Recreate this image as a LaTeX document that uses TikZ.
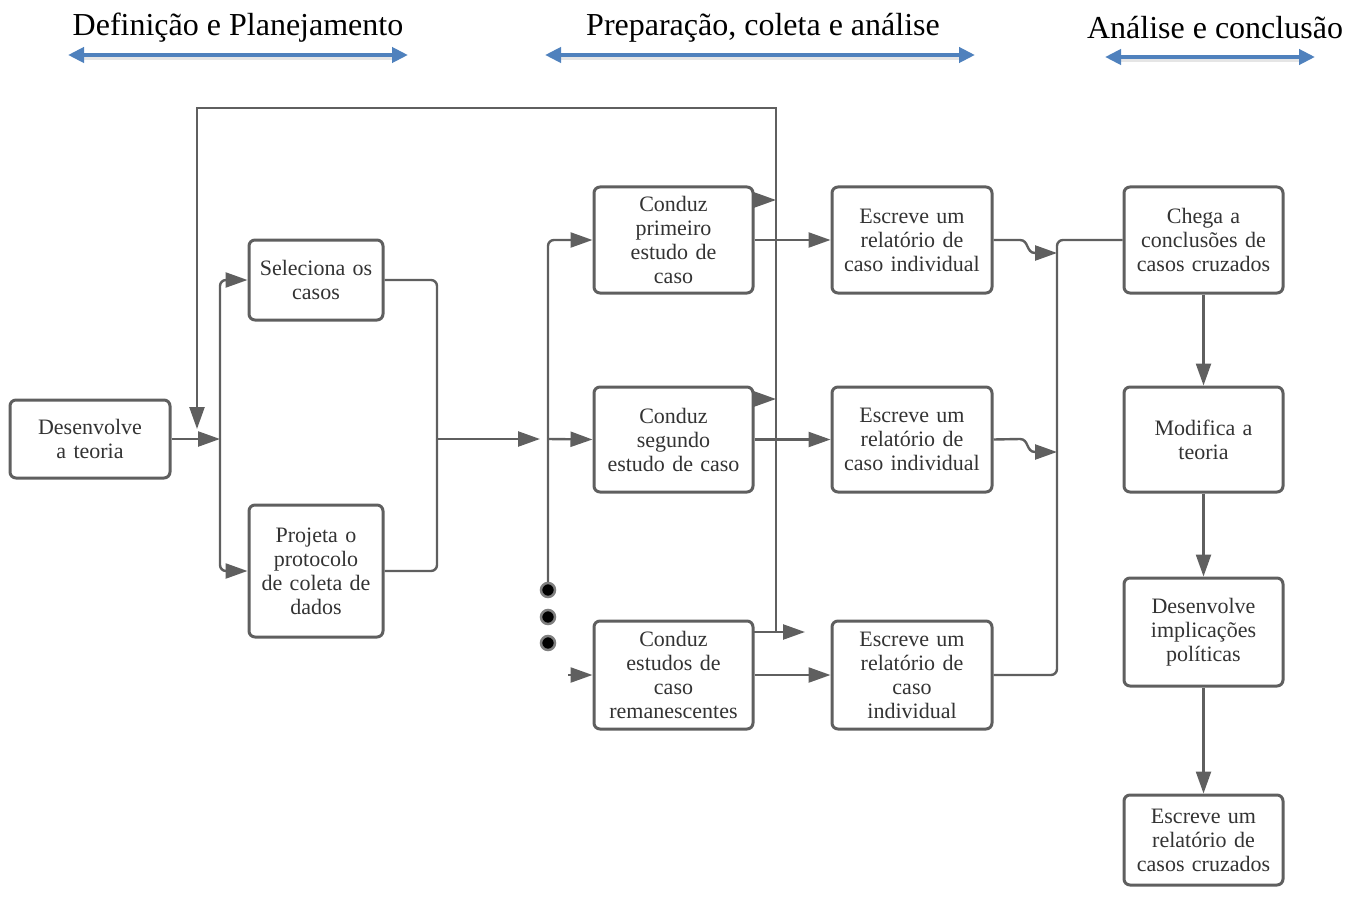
\documentclass[tikz,border=0pt]{standalone}
\usepackage{fontspec}
\setmainfont{Liberation Serif}
\usetikzlibrary{arrows.meta}
\definecolor{lgray}{HTML}{5F5F5F}
\definecolor{tgray}{HTML}{333333}
\definecolor{hblue}{HTML}{4F81BD}
\tikzset{
  >={Triangle[length=22pt,width=15pt]},
  box/.style={draw=lgray, line width=3pt, rounded corners=6pt, fill=white, inner sep=0pt,
    align=center, text=tgray, font=\fontsize{22}{24}\selectfont},
  conn/.style={draw=lgray, line width=2.4pt},
  harrow/.style={draw=hblue, line width=4pt, {Triangle[length=16pt,width=15pt]}-{Triangle[length=16pt,width=15pt]}},
  hshadow/.style={draw=black!10, line width=3pt},
  head/.style={font=\fontsize{32}{36}\selectfont, text=black},
  dot/.style={circle, fill=black, draw=lgray!80, line width=2.5pt, minimum size=14pt, inner sep=0pt}
}
\begin{document}
\begin{tikzpicture}[x=1pt,y=-1pt]
\useasboundingbox (0,0) rectangle (1348,896);
% headers
\node[head] (h1) at (238,28) {Definição e Planejamento};
\node[head] (h2) at (763,28) {Preparação, coleta e análise};
\node[head] (h3) at (1215,28) {Análise e conclusão};
\coordinate (a1l) at (68,55); \coordinate (a1r) at (408,55);
\coordinate (a2l) at (545,55); \coordinate (a2r) at (975,55);
\coordinate (a3l) at (1105,57); \coordinate (a3r) at (1315,57);
\foreach \l/\r in {a1l/a1r,a2l/a2r,a3l/a3r}{
  \draw[hshadow] ([shift={(14,4)}]\l) -- ([shift={(-14,4)}]\r);
  \draw[harrow] (\l) -- (\r);
}
% boxes
\node[box, minimum width=160pt, minimum height=78pt, text width=150pt] (d) at (90,439) {Desenvolve\\a teoria};
\node[box, minimum width=134pt, minimum height=80pt, text width=128pt] (sel) at (316,280) {Seleciona os\\casos};
\node[box, minimum width=134pt, minimum height=132pt, text width=128pt] (proj) at (316,571) {Projeta o\\protocolo\\de coleta de\\dados};
\node[box, minimum width=159pt, minimum height=106pt, text width=155pt] (c1) at (673.5,240) {Conduz\\primeiro\\estudo de\\caso};
\node[box, minimum width=159pt, minimum height=105pt, text width=155pt] (c2) at (673.5,439.5) {Conduz\\segundo\\estudo de caso};
\node[box, minimum width=159pt, minimum height=108pt, text width=155pt] (c3) at (673.5,675) {Conduz\\estudos de\\caso\\remanescentes};
\node[box, minimum width=160pt, minimum height=106pt, text width=155pt] (e1) at (912,240) {Escreve um\\relatório de\\caso individual};
\node[box, minimum width=160pt, minimum height=105pt, text width=155pt] (e2) at (912,439.5) {Escreve um\\relatório de\\caso individual};
\node[box, minimum width=160pt, minimum height=108pt, text width=155pt] (e3) at (912,675) {Escreve um\\relatório de\\caso\\individual};
\node[box, minimum width=159pt, minimum height=106pt, text width=155pt] (ch) at (1203.5,240) {Chega a\\conclusões de\\casos cruzados};
\node[box, minimum width=159pt, minimum height=105pt, text width=155pt] (mod) at (1203.5,439.5) {Modifica a\\teoria};
\node[box, minimum width=159pt, minimum height=108pt, text width=155pt] (imp) at (1203.5,632) {Desenvolve\\implicações\\políticas};
\node[box, minimum width=159pt, minimum height=90pt, text width=155pt] (ecc) at (1203.5,840) {Escreve um\\relatório de\\casos cruzados};
% coordinates
\coordinate (b1) at (220,439);
\coordinate (m1) at (437,439);
\coordinate (b2in) at (540,439);
\coordinate (b2) at (548,439);
\coordinate (c3in) at (568,675);
\coordinate (fbtop) at (776,108);
\coordinate (fbleft) at (197,108);
\coordinate (fbtip) at (197,429);
\coordinate (fb3) at (753,632);
\coordinate (fbx3) at (776,632);
\coordinate (fbend) at (805,632);
\coordinate (fb1s) at (753,200); \coordinate (fb1) at (776,200);
\coordinate (fb2s) at (753,399); \coordinate (fb2) at (776,399);
\coordinate (mg) at (1057,240);
\coordinate (w1) at (1057,253);
\coordinate (w2) at (1057,452);
% dots
\node[dot] (dt1) at (548,590) {};
\node[dot] (dt2) at (548,617) {};
\node[dot] (dt3) at (548,643) {};
% connectors
\draw[conn,->] (d.east) -- (b1);
\draw[conn,->,rounded corners=6pt] (b1) |- (sel.west);
\draw[conn,->,rounded corners=6pt] (b1) |- (proj.west);
\draw[conn,rounded corners=6pt] (sel.east) -| (m1);
\draw[conn,rounded corners=6pt] (proj.east) -| (m1);
\draw[conn,->] (m1) -- (b2in);
\draw[conn,->,rounded corners=6pt] (dt1.north) |- (c1.west);
\draw[conn,->] (b2) -- (c2.west);
\draw[conn,->] (c3in) -- (c3.west);
\draw[conn,->] (c1.east) -- (e1.west);
\draw[conn,->] (c2.east) -- (e2.west);
\draw[conn,->] (c3.east) -- (e3.west);
% feedback loop
\draw[conn,->] (fbx3) -- (fbtop) -- (fbleft) -- (fbtip);
\draw[conn,->] (fb3) -- (fbend);
\draw[conn,->] (fb1s) -- (fb1);
\draw[conn,->] (fb2s) -- (fb2);
% wiggles
\draw[conn,->] (e1.east) -- (1020,240) .. controls (1029,240) and (1026,253) .. (1035,253) -- (w1);
\draw[conn,->] (e2.east) -- (1020,439) .. controls (1029,439) and (1026,452) .. (1035,452) -- (w2);
\draw[conn,rounded corners=6pt] (e3.east) -| (mg) -- (ch.west);
% right column
\draw[conn,->] (ch.south) -- (mod.north);
\draw[conn,->] (mod.south) -- (imp.north);
\draw[conn,->] (imp.south) -- (ecc.north);
\end{tikzpicture}
\end{document}
